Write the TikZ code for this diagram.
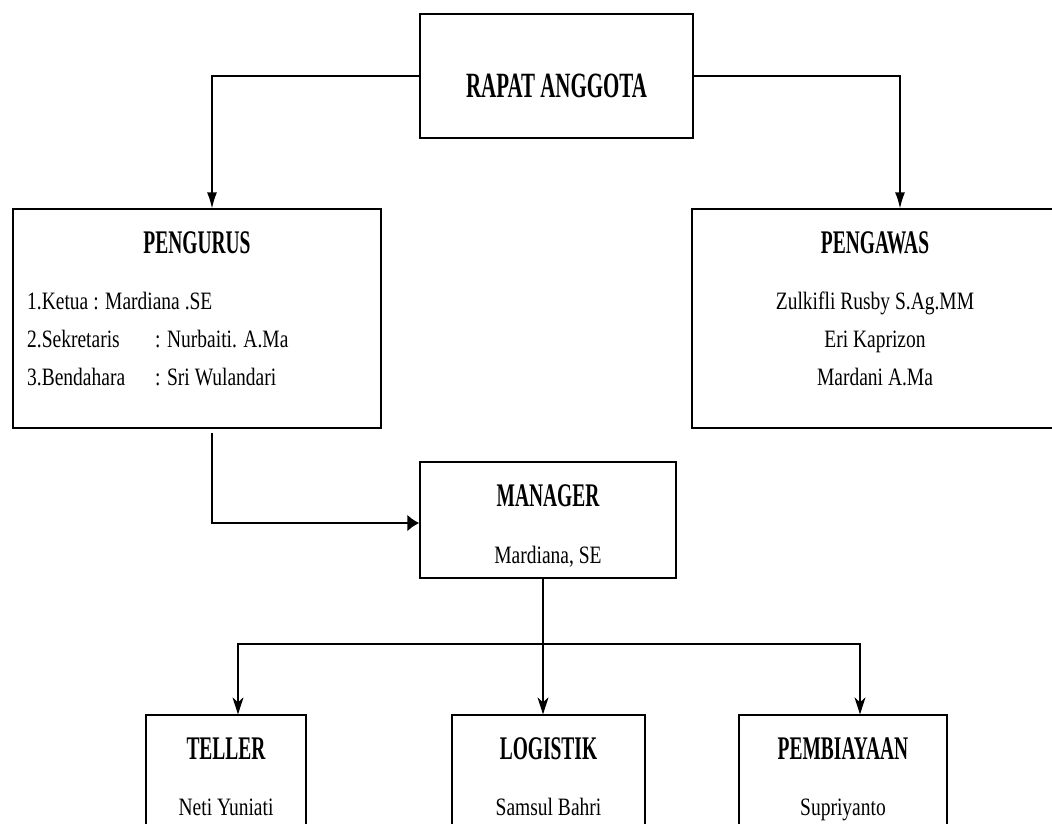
\documentclass[tikz,border=0pt]{standalone}
\usepackage{fontspec}
\setmainfont{Liberation Serif}
\newfontfamily\bodyfont[FakeStretch=0.78]{Liberation Serif}
\newfontfamily\headfont[FakeStretch=0.59]{Liberation Serif}
\usetikzlibrary{arrows.meta,positioning}

\tikzset{
  box/.style={draw, line width=1.3pt, inner sep=0pt},
  bighead/.style={font=\headfont\bfseries\fontsize{35.5}{36}\selectfont, anchor=base, inner sep=0pt},
  head/.style={font=\headfont\bfseries\fontsize{33}{33}\selectfont, anchor=base, inner sep=0pt},
  body/.style={font=\bodyfont\fontsize{25}{25}\selectfont, anchor=base, inner sep=0pt},
  link/.style={line width=1.3pt},
  toptip/.style={-{Latex[length=16pt,width=10pt]}},
  subtip/.style={-{Stealth[length=17pt,width=11pt,inset=5pt]}},
}

\begin{document}
\begin{tikzpicture}[x=1pt,y=-1pt]
	\useasboundingbox (0,0) rectangle (1052,823);

	% boxes
	\node[box, minimum width=273pt, minimum height=124pt] (rapat) at (556.5,76) {};
	\node[box, minimum width=368pt, minimum height=219pt] (pengurus) at (197,318.5) {};
	\node[box, minimum width=366pt, minimum height=219pt] (pengawas) at (875,318.5) {};
	\node[box, minimum width=256pt, minimum height=116pt] (manager) at (548,520) {};
	\node[box, minimum width=160pt, minimum height=170pt] (teller) at (226,800) {};
	\node[box, minimum width=193pt, minimum height=170pt] (logistik) at (548.5,800) {};
	\node[box, minimum width=208pt, minimum height=170pt] (pembiayaan) at (843,800) {};

	% texts
	\node[bighead] (rapattitle) at (556.5,97) {RAPAT ANGGOTA};

	\node[head] (pengurustitle) at (197,253) {PENGURUS};
	\node[body, anchor=base west] (ketua) at (27,309) {1.Ketua : Mardiana .SE};
	\node[body, anchor=base west] (sekretaris) at (27,347) {\makebox[128pt][l]{2.Sekretaris}: Nurbaiti. A.Ma};
	\node[body, anchor=base west] (bendahara) at (27,385) {\makebox[128pt][l]{3.Bendahara}: Sri Wulandari};

	\node[head] (pengawastitle) at (875,253) {PENGAWAS};
	\node[body] (pengawas1) at (875,309) {Zulkifli Rusby S.Ag.MM};
	\node[body] (pengawas2) at (875,347) {Eri Kaprizon};
	\node[body] (pengawas3) at (875,385) {Mardani A.Ma};

	\node[head] (managertitle) at (548,506) {MANAGER};
	\node[body] (managername) at (548,563) {Mardiana, SE};

	\node[head] (tellertitle) at (226,759) {TELLER};
	\node[body] (tellername) at (226,815) {Neti Yuniati};
	\node[head] (logistiktitle) at (548.5,759) {LOGISTIK};
	\node[body] (logistikname) at (548.5,815) {Samsul Bahri};
	\node[head] (pembiayaantitle) at (843,759) {PEMBIAYAAN};
	\node[body] (pembiayaanname) at (843,815) {Supriyanto};

	% connectors
	\draw[link, toptip] (rapat.west) -| ([xshift=15pt]pengurus.north);
	\draw[link, toptip] (rapat.east) -| ([xshift=25pt]pengawas.north);
	\draw[line width=2.6pt, -{Latex[length=12pt,width=17pt]}] ([xshift=15pt,yshift=-4pt]pengurus.south) |- ([yshift=-3pt]manager.west);

	\coordinate (split) at (543,644);
	\draw[link] (manager.south -| split) -- (split);
	\draw[link, subtip] (split) -- (split |- logistik.north);
	\draw[link, subtip] (split) -| ([xshift=12pt]teller.north);
	\draw[link, subtip] (split) -| ([xshift=17pt]pembiayaan.north);
\end{tikzpicture}
\end{document}
